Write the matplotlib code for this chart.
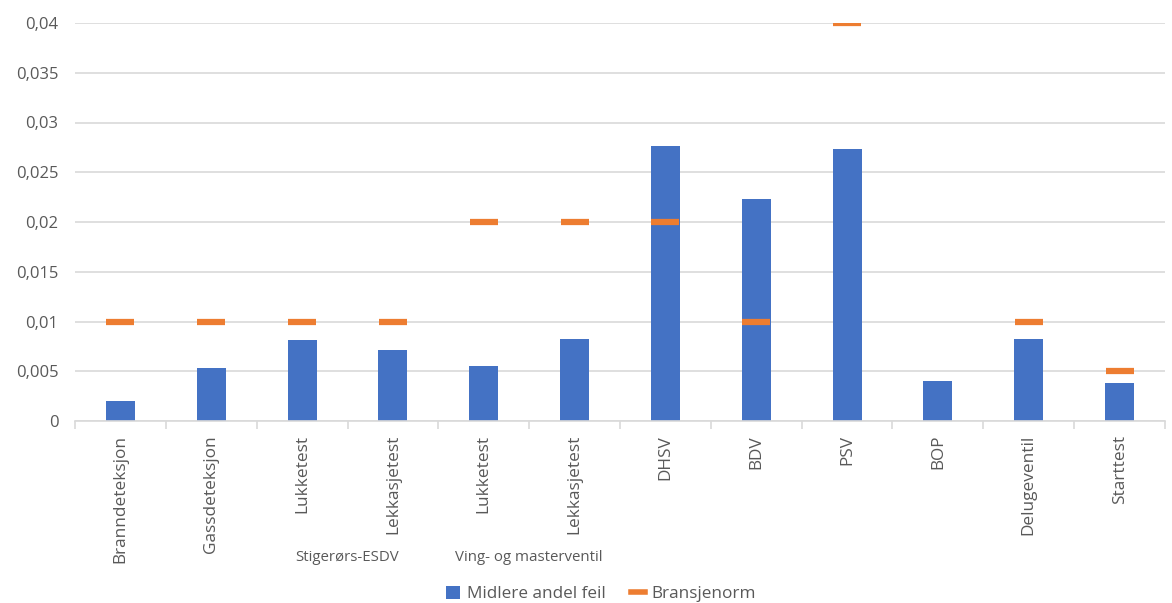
import matplotlib
matplotlib.use("Agg")
import matplotlib.pyplot as plt
from matplotlib.ticker import FixedLocator, FuncFormatter
from matplotlib.lines import Line2D
from matplotlib.patches import Patch
import numpy as np

categories = ["Branndeteksjon", "Gassdeteksjon", "Lukketest", "Lekkasjetest",
              "Lukketest", "Lekkasjetest", "DHSV", "BDV", "PSV", "BOP",
              "Delugeventil", "Starttest"]
andel_feil = [0.0020, 0.0053, 0.0081, 0.0071, 0.0055, 0.0082,
              0.0276, 0.0223, 0.0273, 0.0040, 0.0082, 0.0038]
bransjenorm = [0.01, 0.01, 0.01, 0.01, 0.02, 0.02,
               0.02, 0.01, 0.04, np.nan, 0.01, 0.005]
groups = ["Stigerørs-ESDV", "Ving- og masterventil"]
group_spans = [(2, 3), (4, 5)]
y_ticks = [0, 0.005, 0.01, 0.015, 0.02, 0.025, 0.03, 0.035, 0.04]

BLUE = "#4472C4"
ORANGE = "#ED7D31"
GRID = "#D9D9D9"
TXT = "#595959"

plt.rcParams["font.family"] = ["Open Sans", "DejaVu Sans"]

fig = plt.figure(figsize=(11.72, 6.03), dpi=100)
ax = fig.add_axes([75 / 1172, 1 - 421 / 603, (1165 - 75) / 1172, (421 - 23) / 603])

x = np.arange(len(categories))
ax.bar(x, andel_feil, width=0.32, color=BLUE, zorder=2)
ax.plot(x, bransjenorm, linestyle="none", marker="_", markersize=20,
        markeredgewidth=4.5, color=ORANGE, zorder=3)

ax.set_xlim(-0.5, len(categories) - 0.5)
ax.set_ylim(0, 0.04)
ax.yaxis.set_major_locator(FixedLocator(y_ticks))
ax.yaxis.set_major_formatter(FuncFormatter(
    lambda v, _: "0" if v == 0 else f"{v:.3f}".rstrip("0").replace(".", ",")))
ax.grid(axis="y", color=GRID, linewidth=1.2, zorder=0)
ax.set_axisbelow(True)

for s in ["top", "right", "left"]:
    ax.spines[s].set_visible(False)
ax.spines["bottom"].set_color(GRID)
ax.spines["bottom"].set_linewidth(1.2)

ax.set_xticks(x)
ax.set_xticklabels(categories, rotation=90, color=TXT, fontsize=12.4)
ax.tick_params(axis="x", length=0, pad=10)
ax.set_xticks(np.arange(-0.5, len(categories)), minor=True)
ax.tick_params(axis="x", which="minor", length=6, color=GRID, width=1.2)
ax.tick_params(axis="y", length=0, labelsize=12, labelcolor=TXT, pad=12)

# group labels centred under the categories they span
for (a, b), g in zip(group_spans, groups):
    ax.text((a + b) / 2, -0.342, g, transform=ax.get_xaxis_transform(),
            ha="center", va="center", fontsize=10.8, color=TXT)

handles = [Patch(facecolor=BLUE, edgecolor="none", label="Midlere andel feil"),
           Line2D([0], [0], color=ORANGE, linewidth=4, label="Bransjenorm")]
fig.legend(handles=handles, loc="center", bbox_to_anchor=(0.513, 0.015),
           ncol=2, frameon=False, fontsize=12.3, labelcolor=TXT,
           handlelength=0.8, handleheight=0.8, handletextpad=0.4,
           columnspacing=1.5)

fig.savefig("out.png", dpi=100)
